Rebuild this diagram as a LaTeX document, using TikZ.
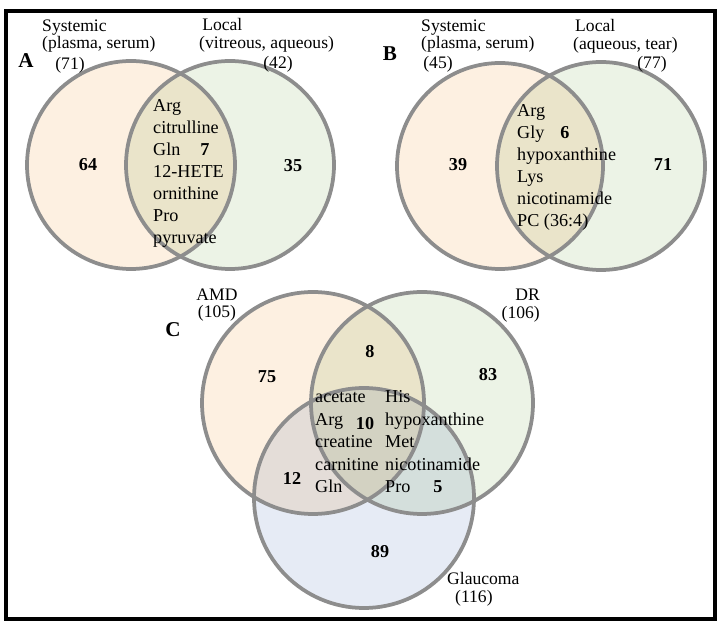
\documentclass[tikz,border=0pt]{standalone}
\usepackage{fontspec}
\setmainfont{Liberation Serif}
\usepackage{xcolor}
\usepackage{tikz}
\usetikzlibrary{positioning}
\definecolor{peachSet}{HTML}{FDF0E1}
\definecolor{greenSet}{HTML}{ECF3E6}
\definecolor{blueSet}{HTML}{E6EBF5}
\definecolor{ringGray}{HTML}{8D8D8D}
\tikzset{venn-ring/.style={draw=ringGray, line width=3.2pt}}
\tikzset{frame-line/.style={draw=black, line width=3.4pt}}
\tikzset{set-label/.style={inner sep=0, font=\fontsize{15}{15.2}\selectfont}}
\tikzset{count-label/.style={inner sep=0, font=\fontsize{15.5}{17}\selectfont\bfseries}}
\tikzset{panel-label/.style={inner sep=0, font=\fontsize{18}{20}\selectfont\bfseries}}
\tikzset{list-item/.style={inner sep=0, anchor=base west, font=\fontsize{15.5}{17}\selectfont}}

\begin{document}
\begin{tikzpicture}[x=0.03cm, y=-0.03cm]
    \useasboundingbox (0,0) rectangle (723,629);
    \draw[frame-line] (6,11) rectangle (715,619);

    % fills first, then the rings on top
    \begin{scope}[blend group=multiply]
        \foreach \cx/\cy/\r/\col in {131/165/104/peachSet, 230/165/104/greenSet,
                500/166/103/peachSet, 601/166/104/greenSet,
                313/403/111/peachSet, 422/403/111/greenSet, 364/498/110/blueSet}
            \fill[\col] (\cx,\cy) circle[radius=\r];
    \end{scope}
    \foreach \cx/\cy/\r in {131/165/104, 230/165/104, 500/166/103, 601/166/104,
            313/403/111, 422/403/111, 364/498/110}
        \draw[venn-ring] (\cx,\cy) circle[radius=\r];

    % panel A
    \node[panel-label] (panelA) at (26,61) {A};
    \node[set-label, anchor=west, align=left] (sysA) at (42,36) {Systemic\\(plasma, serum)};
    \node[set-label] (sysAn) at (70,65) {(71)};
    \node[set-label, anchor=west, align=left] (locA) at (199,35) {\hspace*{2.6pt}Local\\(vitreous, aqueous)};
    \node[set-label] (locAn) at (278,64) {(42)};
    \node[count-label] (onlySysA) at (88,165) {64};
    \node[count-label] (onlyLocA) at (293,166) {35};
    \node[count-label] (bothA) at (205,150) {7};
    \foreach \word [count=\i] in {Arg, citrulline, Gln, 12-HETE, ornithine, Pro, pyruvate}
        \node[list-item] (listA\i) at (153,{112+22*(\i-1)}) {\word};

    % panel B
    \node[panel-label] (panelB) at (390,54) {B};
    \node[set-label, anchor=west, align=left] (sysB) at (421,36) {Systemic\\(plasma, serum)};
    \node[set-label] (sysBn) at (438,64) {(45)};
    \node[set-label, anchor=west, align=left] (locB) at (573,36) {\hspace*{1.7pt}Local\\(aqueous, tear)};
    \node[set-label] (locBn) at (652,64) {(77)};
    \node[count-label] (onlySysB) at (458,165) {39};
    \node[count-label] (onlyLocB) at (663,165) {71};
    \node[count-label] (bothB) at (565,133) {6};
    \foreach \word [count=\i] in {Arg, Gly, hypoxanthine, Lys, nicotinamide, {PC (36:4)}}
        \node[list-item] (listB\i) at (517,{117+22*(\i-1)}) {\word};

    % panel C
    \node[panel-label] (panelC) at (173,330) {C};
    \node[set-label, align=center] (amd) at (217,305) {AMD\\(105)};
    \node[set-label, align=right, anchor=east] (dr) at (540,306) {DR\\(106)};
    \node[set-label, align=left, anchor=west] (glaucoma) at (447,589) {Glaucoma\\\hspace*{6.8pt}(116)};
    \node[count-label] (onlyAmd) at (267,377) {75};
    \node[count-label] (onlyDr) at (488,375) {83};
    \node[count-label] (onlyGl) at (380,552) {89};
    \node[count-label] (amdDr) at (370,352) {8};
    \node[count-label] (amdGl) at (292,478) {12};
    \node[count-label] (drGl) at (438,487) {5};
    \node[count-label] (allC) at (365,424) {10};
    \foreach \word [count=\i] in {acetate, Arg, creatine, carnitine, Gln}
        \node[list-item] (listCa\i) at (315,{403+22.5*(\i-1)}) {\word};
    \foreach \word [count=\i] in {His, hypoxanthine, Met, nicotinamide, Pro}
        \node[list-item] (listCb\i) at (385,{403+22.5*(\i-1)}) {\word};
\end{tikzpicture}
\end{document}
